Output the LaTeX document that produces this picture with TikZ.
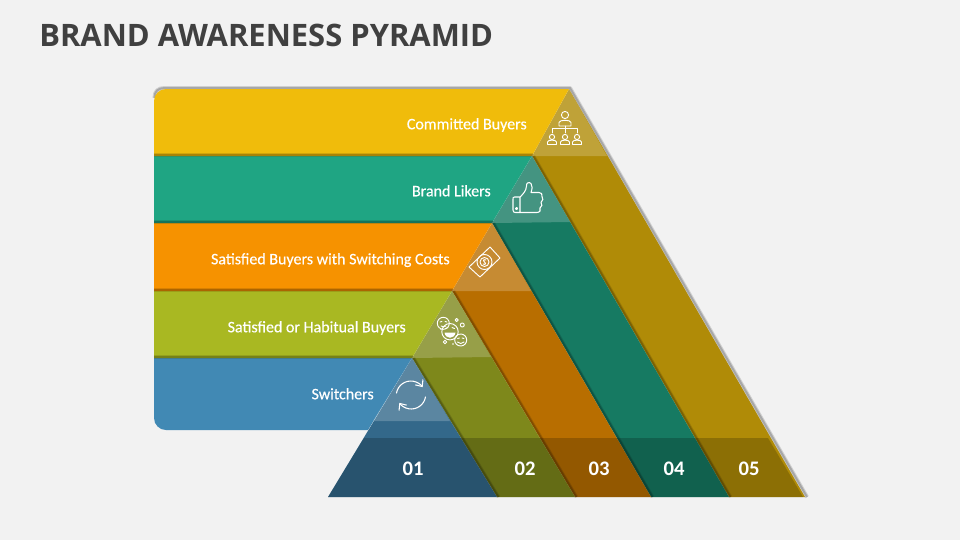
\documentclass[tikz,border=0pt]{standalone}
\usepackage{fontspec}
\setmainfont{Carlito}
\newfontfamily\labelfont[FakeBold=0.35]{Carlito}
\newfontfamily\titlefont{Open Sans}
\usetikzlibrary{calc}
\usetikzlibrary{arrows.meta}

\definecolor{pagegrey}{HTML}{F2F2F2}
\definecolor{titlegrey}{HTML}{404040}
\definecolor{bandyellow}{HTML}{F0BC0B}
\definecolor{bandteal}{HTML}{1FA583}
\definecolor{bandorange}{HTML}{F69200}
\definecolor{bandlime}{HTML}{A9B822}
\definecolor{bandblue}{HTML}{4189B4}
\definecolor{stripeyellow}{HTML}{B08B07}
\definecolor{stripeteal}{HTML}{167A62}
\definecolor{stripeorange}{HTML}{B86E00}
\definecolor{stripelime}{HTML}{7E881B}
\definecolor{stripeblue}{HTML}{33688A}

\begin{document}
\begin{tikzpicture}[x=0.75pt,y=-0.75pt]
\tikzstyle{label}=[text=white,font=\labelfont\fontsize{12}{14}\selectfont,text depth=.25ex,anchor=east,inner sep=0pt]
\tikzstyle{number}=[text=white,font=\fontsize{15.5}{18}\selectfont\bfseries,inner sep=0pt]
\tikzstyle{shade}=[draw=black,line width=2.6pt,opacity=0.12,preaction={draw=black,line width=1.2pt,opacity=0.2}]
\tikzstyle{tip}=[fill=white,fill opacity=0.2]
\tikzstyle{icon}=[draw=white,line width=0.7pt,line join=round,line cap=round]

\fill[pagegrey] (0,0) rectangle (960,540);
\useasboundingbox (0,0) rectangle (960,540);

\node[text=titlegrey,font=\titlefont\fontsize{23.2}{27}\selectfont\bfseries,anchor=west,inner sep=0pt] at(39, 35) (title) {BRAND AWARENESS PYRAMID};

\coordinate (tipa) at (569,89);
\coordinate (tipb) at (532,156);
\coordinate (tipc) at (492,223);
\coordinate (tipd) at (452,291);
\coordinate (tipe) at (412,358);
\coordinate (corner) at (154,89);

% grey shadow behind the top and the right side
\draw[draw=gray,line width=3pt,opacity=0.3,line join=round,preaction={draw=gray,line width=1.5pt,opacity=0.5}] (154.5,98) .. controls (154.5,91) and (158,88) .. (165,88) -- (570,88) -- (807,497);

% slanted stripes, the left ones lie over the right ones
\fill[stripeyellow] (tipa) -- (805,497) -- (729,497) -- (tipb) -- cycle;
\draw[shade] ($(tipb)+(1.5,0)$) -- (730.5,497);
\fill[stripeteal] (tipb) -- (729,497) -- (651,497) -- (tipc) -- cycle;
\draw[shade] ($(tipc)+(1.5,0)$) -- (652.5,497);
\fill[stripeorange] (tipc) -- (651,497) -- (575,497) -- (tipd) -- cycle;
\draw[shade] ($(tipd)+(1.5,0)$) -- (576.5,497);
\fill[stripelime] (tipd) -- (575,497) -- (497,497) -- (tipe) -- cycle;
\draw[shade] ($(tipe)+(1.5,0)$) -- (498.5,497);
\fill[stripeblue] (tipe) -- (497,497) -- (328,497) -- cycle;

% darker foot with the numbers
\fill[black,opacity=0.2] (364,438) -- (768,438) -- (803,497) -- (328,497) -- cycle;

% flat bands
\fill[bandblue] (154,358) [rounded corners=9pt] -- (154,430) [sharp corners] -- (368,430) -- (tipe) -- cycle;
\fill[bandlime] (154,291) -- (154,358) -- (tipe) -- (tipd) -- cycle;
\fill[bandorange] (154,223) -- (154,291) -- (tipd) -- (tipc) -- cycle;
\fill[bandteal] (154,156) -- (154,223) -- (tipc) -- (tipb) -- cycle;
\fill[bandyellow] (154,156) [rounded corners=9pt] -- (corner) [sharp corners] -- (tipa) -- (tipb) -- cycle;
\draw[shade] (154,154.8) -- (533,154.8);
\draw[shade] (154,221.8) -- (493,221.8);
\draw[shade] (154,289.8) -- (453,289.8);
\draw[shade] (154,356.8) -- (413,356.8);

% pale triangles under the icons
\fill[tip] (tipa) -- (607,156) -- (tipb) -- cycle;
\fill[tip] (tipb) -- (570,222) -- (tipc) -- cycle;
\fill[tip] (tipc) -- (531,291) -- (tipd) -- cycle;
\fill[tip] (tipd) -- (491,357) -- (tipe) -- cycle;
\fill[tip] (tipe) -- (450,421) -- (373,421) -- cycle;

\node[label] at(527, 124.5) (committed) {Committed Buyers};
\node[label] at(491, 191.5) (likers) {Brand Likers};
\node[label] at(450, 259.5) (satisfied) {Satisfied Buyers with Switching Costs};
\node[label] at(406, 327.5) (habitual) {Satisfied or Habitual Buyers};
\node[label] at(374, 394.5) (switchers) {Switchers};

\node[number] at(413, 469) (one) {01};
\node[number] at(525, 469) (two) {02};
\node[number] at(599, 469) (three) {03};
\node[number] at(674, 469) (four) {04};
\node[number] at(749, 469) (five) {05};

% people
\draw[icon] (565,115) circle[radius=3.6];
\draw[icon] (559,126) -- (559,122.5) .. controls (559,119.5) and (571,119.5) .. (571,122.5) -- (571,126) -- cycle;
\draw[icon] (565,126) -- (565,133) (552,133) -- (552,128.5) -- (577,128.5) -- (577,133) (565,128.5) -- (565,133);
\foreach \px in {552,565,577}{
  \draw[icon] (\px,137) circle[radius=2.6];
  \draw[icon] (\px-4.5,144.5) -- (\px-4.5,142) .. controls (\px-4.5,139.5) and (\px+4.5,139.5) .. (\px+4.5,142) -- (\px+4.5,144.5) -- cycle;
}

% thumb
\draw[icon,line width=0.8pt] (520,197) -- (514.5,197) .. controls (513,197) and (513,198) .. (513,199) -- (513,210) .. controls (513,212) and (514,212.5) .. (515.5,212.5) -- (537,212.5) .. controls (540,212.5) and (541,210) .. (540,208) .. controls (542,207) and (542.5,204) .. (541,202.5) .. controls (543,201) and (543.5,198) .. (542,196.5) .. controls (543,194) and (541,192.5) .. (539,192.5) -- (531,192.5) .. controls (532,189) and (533,186) .. (531,183.5) .. controls (529,181.5) and (526,183) .. (526.5,186) .. controls (526.5,191) and (522,195) .. (520,197) -- (520,212.5);
\draw[icon] (516.5,208.5) circle[radius=1.1];

% banknote
\draw[icon] (490,247) -- (500,258) -- (480,277) -- (469,267) -- cycle;
\draw[icon] (484.5,262) circle[radius=7.5];
\draw[icon] (484.5,262) circle[radius=4.5];
\draw[icon] (486,260) .. controls (483,258.5) and (482.5,262) .. (484.5,262) .. controls (486.5,262) and (486,265.5) .. (483,264);

% smiling faces
\draw[icon] (443.3,323.3) circle[radius=6];
\draw[icon] (460.7,340) circle[radius=6];
\draw[icon] (450,331.7) circle[radius=8.2];
\draw[icon] (456.7,320) circle[radius=1.6];
\draw[icon] (462.3,325) circle[radius=2];
\draw[icon] (445,342) circle[radius=1.8];
\fill[white] (441,329.5) circle[radius=0.7] (453,344) circle[radius=0.8];
\fill[white] (444.5,332.5) .. controls (445.5,339.5) and (454.5,339.5) .. (455.5,332.5) -- cycle;
\draw[icon] (445.5,328.5) -- (448,327.5) (452,327.5) -- (454.5,328.5);
\draw[icon] (440,322) -- (442,321.5) (445,321.5) -- (447,322) (441,326) .. controls (442.5,327) and (444.5,327) .. (446,326);
\draw[icon] (457.5,338.5) -- (459.5,338) (462,338) -- (464,338.5) (457.5,342) .. controls (459.5,344) and (462,344) .. (464,342);

% two arrows in a circle
\draw[icon,-{Straight Barb[length=4pt,width=7pt]},line width=0.8pt] (396.5,393) arc[start angle=190,end angle=325,radius=14.5];
\draw[icon,-{Straight Barb[length=4pt,width=7pt]},line width=0.8pt] (425.5,397) arc[start angle=10,end angle=145,radius=14.5];
\end{tikzpicture}
\end{document}
